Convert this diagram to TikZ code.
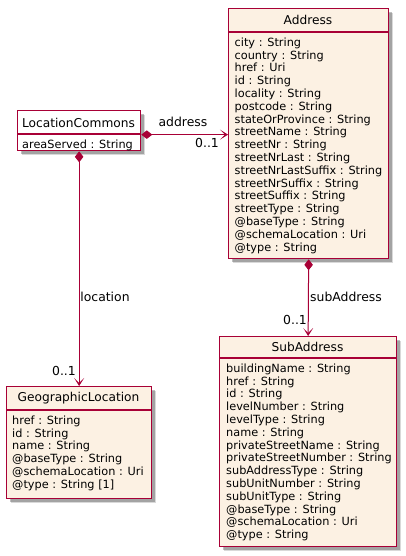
\documentclass[tikz,border=0pt]{standalone}
\usepackage{fontspec}
\setmainfont{DejaVu Sans}
\usetikzlibrary{arrows.meta,shadows}
\definecolor{umlred}{HTML}{A80036}
\definecolor{umlfill}{HTML}{FCF1E3}
\tikzset{
  classbox/.style={draw=umlred, line width=1.3pt, fill=umlfill, anchor=north west, inner sep=0pt,
    drop shadow={shadow xshift=4.5pt, shadow yshift=-4.5pt, opacity=0.15, fill=black},
    drop shadow={shadow xshift=3pt, shadow yshift=-3pt, opacity=0.25, fill=black}},
  whitebox/.style={classbox, fill=white},
  sepline/.style={draw=umlred, line width=1.3pt},
  ctitle/.style={font=\fontsize{12.2}{14}\selectfont, inner sep=0pt},
  attrs/.style={font=\fontsize{11.3}{12.8}\selectfont, align=left, inner sep=0pt, anchor=north west},
  conn/.style={draw=umlred, line width=1pt,
    {Diamond[length=11pt,width=8.5pt,fill=umlred]}-{Stealth[length=8pt,width=10pt,inset=5pt,fill=umlred]}},
  lbl/.style={font=\fontsize{12.4}{14}\selectfont, inner sep=0pt},
}
\begin{document}
\begin{tikzpicture}[x=1pt,y=-1pt]
\useasboundingbox (0,0) rectangle (406,556);
% LocationCommons
\node[whitebox, minimum width=123pt, minimum height=40pt] (lc) at (17,110) {};
\draw[sepline] (17,134) -- (140,134);
\node[ctitle] (lct) at (78.5,122.5) {LocationCommons};
\node[attrs] (lca) at (22,139.5) {areaServed : String};
% Address
\node[classbox, minimum width=160pt, minimum height=250pt] (addr) at (228,8) {};
\draw[sepline] (228,32) -- (388,32);
\node[ctitle] (addrt) at (308,20) {Address};
\node[attrs] (addra) at (234.5,37.5) {city : String\\country : String\\href : Uri\\id : String\\locality : String\\postcode : String\\stateOrProvince : String\\streetName : String\\streetNr : String\\streetNrLast : String\\streetNrLastSuffix : String\\streetNrSuffix : String\\streetSuffix : String\\streetType : String\\@baseType : String\\@schemaLocation : Uri\\@type : String};
% GeographicLocation
\node[classbox, minimum width=145pt, minimum height=112pt] (geo) at (6,386) {};
\draw[sepline] (6,410) -- (151,410);
\node[ctitle] (geot) at (78.5,398) {GeographicLocation};
\node[attrs] (geoa) at (12,415.5) {href : String\\id : String\\name : String\\@baseType : String\\@schemaLocation : Uri\\@type : String [1]};
% SubAddress
\node[classbox, minimum width=177pt, minimum height=210pt] (sub) at (219,336) {};
\draw[sepline] (219,358) -- (396,358);
\node[ctitle] (subt) at (307.5,347) {SubAddress};
\node[attrs] (suba) at (226,363.5) {buildingName : String\\href : String\\id : String\\levelNumber : String\\levelType : String\\name : String\\privateStreetName : String\\privateStreetNumber : String\\subAddressType : String\\subUnitNumber : String\\subUnitType : String\\@baseType : String\\@schemaLocation : Uri\\@type : String};
% connectors
\draw[conn] ([yshift=-4pt]lc.east) -- ([yshift=-4pt]lc.east -| addr.west);
\node[lbl] (la) at (183,121.5) {address};
\node[lbl] (lam) at (207,142.5) {0..1};
\draw[conn] (lc.south) -- (geo.north);
\node[lbl] (ll) at (105,297) {location};
\node[lbl] (llm) at (64,371) {0..1};
\draw[conn] (addr.south) -- (sub.north);
\node[lbl] (ls) at (346,296.5) {subAddress};
\node[lbl] (lsm) at (295,320) {0..1};
\end{tikzpicture}
\end{document}
